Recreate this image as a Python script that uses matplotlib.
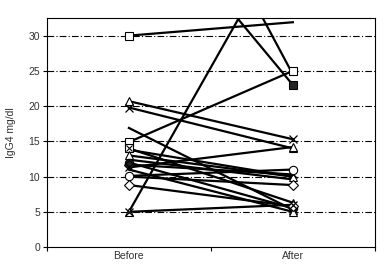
import matplotlib
matplotlib.use("Agg")
import matplotlib.pyplot as plt

plt.rcParams['font.family'] = ['Liberation Sans', 'DejaVu Sans']

# one entry per subject: IgG4 before / after, marker at each end ('' = none)
before = [30.0, 20.7, 19.8, 16.9, 14.9, 14.0, 13.8, 13.0, 12.4, 12.0, 11.7, 11.3, 11.0, 10.1, 10.0, 8.8, 5.0, 5.0, 51.0, 68.0]
after = [31.9, 15.3, 14.0, 5.3, 25.0, 6.3, 10.0, 10.0, 9.6, 5.5, 10.3, 14.2, 5.0, 11.0, 8.8, 5.8, 46.0, 6.0, 23.0, 24.5]
mark_before = ['s', '^', 'x', '', 's', 'sx', '', '^', '', 'o', 'D', 'x', '', 'o', '', 'D', '^', 'x', '', '']
mark_after = ['', 'x', '^', '^', 's', '^', '', '^', '', 'o', 'x', '^', '^', 'o', 'D', 'D', '', 'x', 's', '']
filled = [False, False, False, False, False, False, False, False, False, True, True, False, False, False, False, False, False, False, True, False]

groups = ['Before', 'After']
yticks = [0, 5, 10, 15, 20, 25, 30]

fig = plt.figure(figsize=(3.88, 2.77), dpi=100)
ax = fig.add_axes([0.121, 0.108, 0.845, 0.827])

for y in yticks[1:]:
    ax.axhline(y, color='black', lw=0.8, dashes=(6, 2, 1, 2), zorder=1)

xpos = [0.5, 1.5]


def draw_marker(x, y, m, fill):
    if m == '':
        return
    face = '#222222' if fill else 'white'
    if m == 'sx':
        ax.plot(x, y, marker='s', ms=5.5, mfc=face, mec='black', mew=0.8, zorder=4)
        ax.plot(x, y, marker='x', ms=4, mec='black', mew=0.8, zorder=5)
    elif m == 'x':
        ax.plot(x, y, marker='x', ms=6, mec='black', mew=0.9, zorder=4)
    else:
        ax.plot(x, y, marker=m, ms=6 if m != 'D' else 5, mfc=face, mec='black', mew=0.8, zorder=4)


for b, a, mb, ma, f in zip(before, after, mark_before, mark_after, filled):
    ax.plot(xpos, [b, a], color='black', lw=1.6, zorder=3)
    draw_marker(xpos[0], b, mb, f)
    draw_marker(xpos[1], a, ma, f)

ax.set_xlim(0, 2)
ax.set_ylim(0, 32.5)
ax.set_yticks(yticks)
ax.set_xticks([0, 1, 2])
ax.set_xticklabels([])
ax.set_xticks(xpos, minor=True)
ax.set_xticklabels(groups, minor=True)
ax.tick_params(axis='x', which='minor', length=0, pad=3, labelsize=7.5, labelcolor='#333333')
ax.tick_params(axis='x', which='major', length=3, width=0.8, direction='out')
ax.tick_params(axis='y', length=3, width=0.8, direction='out', labelsize=7.5, pad=2, labelcolor='#333333')
ax.set_ylabel('IgG4 mg/dl', fontsize=7.5, labelpad=9, color='#333333')
for s in ax.spines.values():
    s.set_linewidth(0.8)

fig.savefig('out.png', dpi=100)
